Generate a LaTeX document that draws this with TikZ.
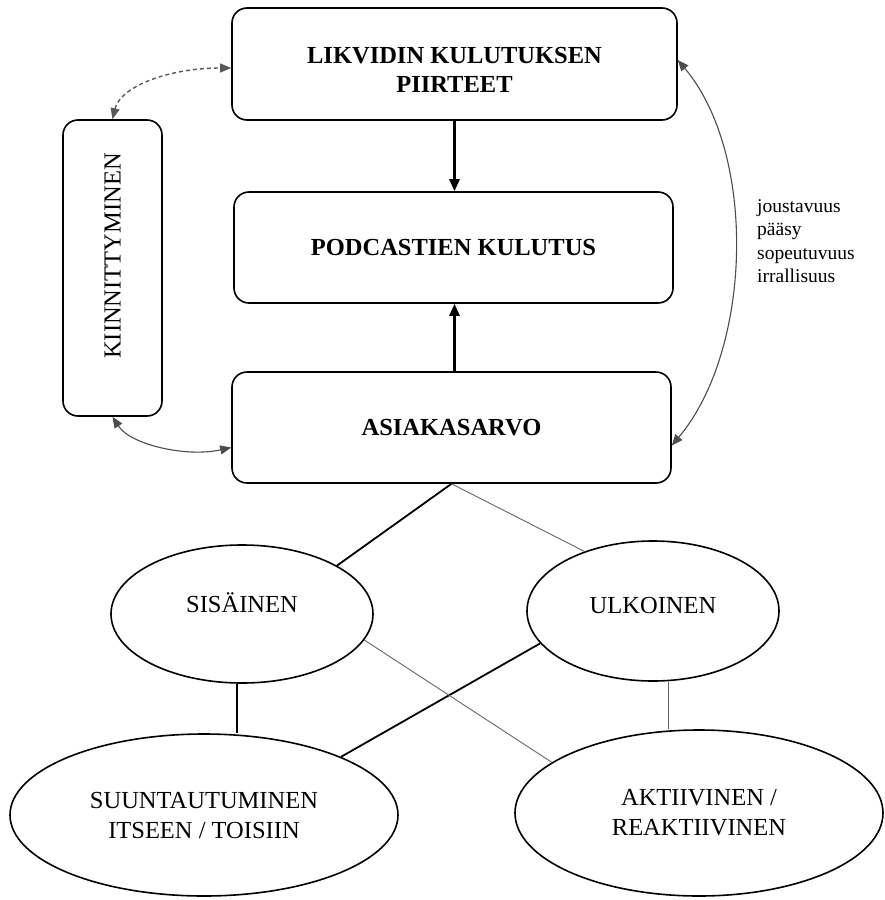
\documentclass[tikz,border=0pt]{standalone}
\usepackage{fontspec}
\setmainfont{Liberation Serif}
\usetikzlibrary{shapes.geometric,arrows.meta}
\begin{document}
\begin{tikzpicture}[x=1pt,y=-1pt,
  box/.style={draw, line width=1.6pt, rounded corners=15pt, inner sep=0pt},
  boxtext/.style={font=\fontsize{24.5}{29.5}\selectfont\bfseries, align=center},
  oval/.style={draw, ellipse, line width=1.6pt, inner sep=0pt, font=\fontsize{24.5}{30}\selectfont, align=center},
  heavyline/.style={line width=1.8pt},
  arrowline/.style={line width=2.6pt},
  lightline/.style={line width=0.9pt, draw=black!60},
  headtip/.style={-{Triangle[length=12pt,width=10pt]}},
  bothtips/.style={{Triangle[length=11pt,width=9pt]}-{Triangle[length=11pt,width=9pt]}},
  curvearrow/.style={line width=1.1pt, draw=black!70, fill=none, bothtips},
  dashedarrow/.style={line width=1.4pt, draw=black!65, dash pattern=on 4pt off 3pt, bothtips}
]
\useasboundingbox (0,0) rectangle (885,900);

% boxes
\node[box, minimum width=445pt, minimum height=112pt,
      label={[boxtext, yshift=-6pt]center:{LIKVIDIN KULUTUKSEN\\PIIRTEET}}] (lik) at (454.5,64) {};
\node[box, minimum width=439pt, minimum height=111pt, boxtext] (pod) at (453.5,247.5) {PODCASTIEN KULUTUS};
\node[box, minimum width=439pt, minimum height=111pt, boxtext] (asiak) at (451.5,427.5) {ASIAKASARVO};
\node[box, minimum width=99pt, minimum height=296pt,
      label={[font=\fontsize{24.5}{29}\selectfont, yshift=12pt, rotate=90]center:KIINNITTYMINEN}] (kiin) at (112.5,268) {};

% side text
\node[font=\fontsize{19.5}{23.5}\selectfont, align=left, anchor=west, inner sep=0pt] (attrs) at (757,241)
  {joustavuus\\pääsy\\sopeutuvuus\\irrallisuus};

% ellipses
\node[oval, minimum width=262pt, minimum height=138pt, text height=17pt, text depth=20pt] (sis) at (242,614) {SISÄINEN};
\node[oval, minimum width=252pt, minimum height=140pt, text height=17pt, text depth=12pt] (ulk) at (653,611) {ULKOINEN};
\node[oval, minimum width=388pt, minimum height=162pt] (suu) at (204,815) {SUUNTAUTUMINEN\\ITSEEN / TOISIIN};
\node[oval, minimum width=368pt, minimum height=166pt] (akt) at (699,813) {AKTIIVINEN /\\REAKTIIVINEN};

% vertical arrows
\draw[arrowline, headtip] (lik.south) -- (lik.south |- pod.north);
\draw[arrowline, headtip] ([xshift=3pt]asiak.north) -- ([xshift=3pt]asiak.north |- pod.south);

% curved double arrows
\draw[dashedarrow] (kiin.north) .. controls +(8,-33) and +(-62,0) .. ([yshift=-4pt]lik.west);
\draw[curvearrow] (kiin.south) .. controls +(18,28) and +(-45,10) .. ([yshift=-20pt]asiak.west);
\draw[curvearrow] ([yshift=4pt]lik.east) .. controls +(80,95) and +(80,-95) .. ([yshift=-18pt]asiak.east);

% tree lines
\draw[heavyline] (asiak.south) -- (sis.27);
\draw[lightline] (asiak.south) -- (ulk.139);
\draw[heavyline] (ulk.196) -- (suu.23);
\draw[lightline] (sis.-12) -- (akt.161);
\draw[heavyline] ([xshift=-5pt]sis.south) -- ([xshift=-5pt]sis.south |- suu.north);
\draw[lightline] ([xshift=15pt]ulk.south) -- ([xshift=15pt]ulk.south |- akt.north);
\end{tikzpicture}
\end{document}
